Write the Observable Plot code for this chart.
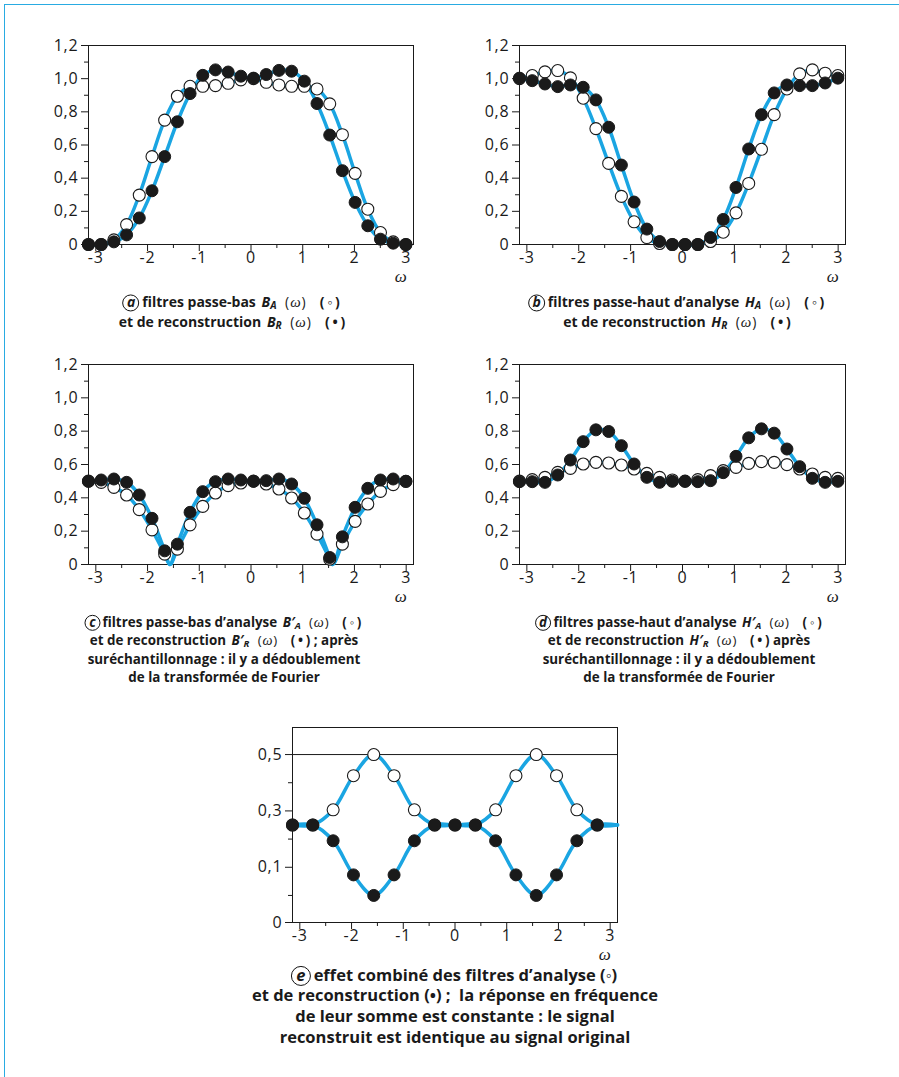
<!DOCTYPE html>
<html><head><meta charset="utf-8">
<script src="https://cdn.jsdelivr.net/npm/d3@7"></script>
<script src="https://cdn.jsdelivr.net/npm/@observablehq/plot@0.6"></script>
<style>
body{margin:0;background:#fff;}
#page{position:relative;width:899px;height:1077px;overflow:hidden;background:#fff;font-family:"Open Sans",sans-serif;color:#1a1a1a;}
#bt{position:absolute;left:4px;top:4px;right:0;border-top:1.5px solid #29abe2;}
#bl{position:absolute;left:4px;top:4px;bottom:0;border-left:1.5px solid #29abe2;}
.panel{position:absolute;}
.cap{position:absolute;text-align:center;font-weight:700;white-space:nowrap;transform:translateX(-50%);}
.lt{position:relative;font-style:italic;font-weight:700;margin:0 0.5em 0 0.2em;}
.lt::before{content:"";position:absolute;left:50%;top:57%;width:1.22em;height:1.22em;border:1.2px solid #111;border-radius:50%;transform:translate(-50%,-50%);box-sizing:border-box;}
.v{font-style:italic;margin-left:0.15em;}
.v sub{font-size:0.72em;vertical-align:-0.16em;line-height:0;}
.w{font-weight:400;margin-left:0.35em;}
.w i{font-family:"Liberation Serif",serif;font-size:1.06em;margin:0 0.06em;}
.s{margin-left:0.75em;}
.s b{margin:0 0.2em;font-weight:700;}
</style>
</head><body>
<div id="page">
  <div id="bt"></div><div id="bl"></div>
  <div class="panel" id="pa"></div>
  <div class="panel" id="pb"></div>
  <div class="panel" id="pc"></div>
  <div class="panel" id="pd"></div>
  <div class="panel" id="pe"></div>
  <div class="cap" style="left:232px;top:292px;font-size:14px;line-height:19.3px">
    <span class="lt">a</span>filtres passe-bas <span class="v">B<sub>A</sub></span> <span class="w">(<i>ω</i>)</span> <span class="s">(<b>◦</b>)</span><br>
    et de reconstruction <span class="v">B<sub>R</sub></span> <span class="w">(<i>ω</i>)</span> <span class="s">(<b>•</b>)</span>
  </div>
  <div class="cap" style="left:677px;top:292px;font-size:14px;line-height:19.3px">
    <span class="lt">b</span>filtres passe-haut d’analyse <span class="v">H<sub>A</sub></span> <span class="w">(<i>ω</i>)</span> <span class="s">(<b>◦</b>)</span><br>
    et de reconstruction <span class="v">H<sub>R</sub></span> <span class="w">(<i>ω</i>)</span> <span class="s">(<b>•</b>)</span>
  </div>
  <div class="cap" style="left:224px;top:612.5px;font-size:13.4px;line-height:18.5px">
    <span class="lt">c</span>filtres passe-bas d’analyse <span class="v">B′<sub>A</sub></span> <span class="w">(<i>ω</i>)</span> <span class="s">(<b>◦</b>)</span><br>
    et de reconstruction <span class="v">B′<sub>R</sub></span> <span class="w">(<i>ω</i>)</span> <span class="s">(<b>•</b>)</span> ; après<br>
    suréchantillonnage : il y a dédoublement<br>
    de la transformée de Fourier
  </div>
  <div class="cap" style="left:679px;top:612.5px;font-size:13.4px;line-height:18.5px">
    <span class="lt">d</span>filtres passe-haut d’analyse <span class="v">H′<sub>A</sub></span> <span class="w">(<i>ω</i>)</span> <span class="s">(<b>◦</b>)</span><br>
    et de reconstruction <span class="v">H′<sub>R</sub></span> <span class="w">(<i>ω</i>)</span> <span class="s">(<b>•</b>)</span> après<br>
    suréchantillonnage : il y a dédoublement<br>
    de la transformée de Fourier
  </div>
  <div class="cap" style="left:455px;top:964.5px;font-size:16.5px;line-height:20.8px">
    <span class="lt">e</span>effet combiné des filtres d’analyse (◦)<br>
    et de reconstruction (•) ;&nbsp; la réponse en fréquence<br>
    de leur somme est constante : le signal<br>
    reconstruit est identique au signal original
  </div>
</div>
<script>
// ---- data ----
const xs = [-3.142,-2.896,-2.651,-2.405,-2.160,-1.914,-1.669,-1.423,-1.178,-0.933,-0.687,-0.442,-0.196,0.049,0.295,0.540,0.785,1.031,1.276,1.522,1.767,2.013,2.258,2.503,2.749,2.994];
const aOpen   = [0,0,0.028,0.12,0.298,0.53,0.75,0.894,0.954,0.954,0.958,0.972,0.993,1.0,0.978,0.962,0.954,0.954,0.938,0.848,0.662,0.429,0.213,0.072,0.016,0];
const aFilled = [0,0,0.016,0.058,0.16,0.324,0.53,0.74,0.91,1.02,1.053,1.04,1.015,1.003,1.025,1.05,1.045,0.985,0.85,0.66,0.445,0.254,0.113,0.032,0.008,0];
const bOpen   = [1.0,1.019,1.041,1.049,1.005,0.882,0.699,0.489,0.29,0.137,0.042,0.006,0,0,0,0.018,0.074,0.191,0.368,0.574,0.783,0.938,1.029,1.053,1.033,1.019];
const bFilled = [1.003,0.988,0.968,0.952,0.962,0.948,0.872,0.707,0.479,0.256,0.093,0.018,0,0,0,0.042,0.151,0.344,0.576,0.783,0.914,0.962,0.958,0.958,0.974,1.003];
const cOpen   = [0.5,0.493,0.463,0.417,0.329,0.208,0.062,0.092,0.238,0.349,0.429,0.473,0.489,0.5,0.483,0.453,0.399,0.309,0.182,0.032,0.122,0.259,0.363,0.439,0.479,0.499];
const cFilled = [0.499,0.507,0.513,0.493,0.417,0.277,0.082,0.122,0.313,0.437,0.497,0.513,0.507,0.499,0.503,0.513,0.483,0.397,0.238,0.042,0.166,0.343,0.457,0.507,0.513,0.499];
const cDipX = [-1.571, 1.571];
const cDipY = [0, 0];
const dOpen   = [0.5,0.509,0.523,0.553,0.577,0.603,0.613,0.609,0.597,0.573,0.547,0.523,0.507,0.5,0.509,0.533,0.563,0.583,0.607,0.617,0.613,0.599,0.573,0.543,0.523,0.517];
const dFilled = [0.497,0.497,0.493,0.537,0.627,0.737,0.808,0.798,0.713,0.603,0.523,0.493,0.499,0.499,0.497,0.503,0.551,0.649,0.76,0.814,0.788,0.693,0.587,0.517,0.493,0.499];
const xe = [-3.142,-2.749,-2.356,-1.963,-1.571,-1.178,-0.785,-0.393,0,0.393,0.785,1.178,1.571,1.963,2.356,2.749];
const eOpen   = [0.25,0.25,0.304,0.425,0.5,0.425,0.304,0.25,0.25,0.25,0.304,0.425,0.5,0.425,0.304,0.25];
const eFilled = [0.25,0.25,0.194,0.073,0.0,0.073,0.194,0.25,0.25,0.25,0.194,0.073,0.0,0.073,0.194,0.25];
const eEndX = 3.142, eEndY = 0.25;

const xTicks = [-3,-2,-1,0,1,2,3];
const xTickLabels = ["-3","-2","-1","0","1","2","3"];
const xMinor = [-2.5,-1.5,-0.5,0.5,1.5,2.5];
const yTicksAD = [0,0.2,0.4,0.6,0.8,1.0,1.2];
const yTickLabelsAD = ["0","0,2","0,4","0,6","0,8","1,0","1,2"];
const yMinorAD = [0.1,0.3,0.5,0.7,0.9,1.1];
const yTicksE = [-0.096,0.1,0.3,0.5];
const yTickLabelsE = ["0","0,1","0,3","0,5"];
const yMinorE = [0,0.2,0.4];
const omega = "ω";

// ---- drawing ----
const BLUE = "#1aa5e2";
const INK = "#1a1a1a";
const zip = (x, y) => x.map((v, i) => ({x: v, y: y[i]}));

function panel(el, o) {
  const ML = 60, MR = 12, MT = 8, MB = 46;
  const xLab = new Map(xTicks.map((t, i) => [t, xTickLabels[i]]));
  const yLab = new Map(o.yTicks.map((t, i) => [t, o.yLabels[i]]));
  const marks = [Plot.frame({stroke: INK, strokeWidth: 1})];
  if (o.rule) marks.push(Plot.ruleY(o.rule, {stroke: INK, strokeWidth: 1}));
  marks.push(
    Plot.axisX({ticks: xTicks, tickSize: 7, tickPadding: 0, tickFormat: d => xLab.get(d), label: null, stroke: INK, fill: INK}),
    Plot.axisX({ticks: xMinor, tickSize: 4, tickFormat: () => "", label: null, stroke: INK}),
    Plot.axisY({ticks: o.yTicks, tickSize: 7, tickPadding: 3, tickFormat: d => yLab.get(d), label: null, stroke: INK, fill: INK}),
    Plot.axisY({ticks: o.yMinor, tickSize: 4, tickFormat: () => "", label: null, stroke: INK}),
    ...o.lines.map(l => Plot.line(l, {x: "x", y: "y", stroke: BLUE, strokeWidth: 3.5, curve: o.curve || "catmull-rom"})),
    Plot.dot(o.open, {x: "x", y: "y", r: 6, fill: "white", stroke: INK, strokeWidth: 1.1}),
    Plot.dot(o.filled, {x: "x", y: "y", r: 6, fill: INK, stroke: INK, strokeWidth: 1}),
    Plot.text([omega], {text: d => d, frameAnchor: "bottom-right", dx: -6, dy: 37, fontStyle: "italic", fontFamily: "Liberation Serif, serif", fontSize: 17, fill: INK})
  );
  const svg = Plot.plot({
    width: o.fw + ML + MR, height: o.fh + MT + MB,
    marginLeft: ML, marginRight: MR, marginTop: MT, marginBottom: MB,
    style: {fontFamily: "'Open Sans', sans-serif", fontSize: "16px", letterSpacing: "0.8px", color: INK, background: "transparent", overflow: "visible"},
    x: {domain: [-3.1416, 3.1416]},
    y: {domain: o.yDomain},
    marks
  });
  const box = document.getElementById(el);
  box.style.left = (o.left - ML) + "px";
  box.style.top = (o.top - MT) + "px";
  box.appendChild(svg);
}

const sortX = arr => arr.slice().sort((p, q) => p.x - q.x);

panel("pa", {left: 88, top: 45, fw: 325, fh: 199, yDomain: [0, 1.2], yTicks: yTicksAD, yLabels: yTickLabelsAD, yMinor: yMinorAD,
  lines: [zip(xs, aOpen), zip(xs, aFilled)], open: zip(xs, aOpen), filled: zip(xs, aFilled)});
panel("pb", {left: 519, top: 45, fw: 326, fh: 199, yDomain: [0, 1.2], yTicks: yTicksAD, yLabels: yTickLabelsAD, yMinor: yMinorAD,
  lines: [zip(xs, bOpen), zip(xs, bFilled)], open: zip(xs, bOpen), filled: zip(xs, bFilled)});
panel("pc", {left: 88, top: 364, fw: 325, fh: 200, yDomain: [0, 1.2], yTicks: yTicksAD, yLabels: yTickLabelsAD, yMinor: yMinorAD, curve: "monotone-x",
  lines: [sortX(zip(xs, cOpen).concat(zip(cDipX, cDipY))), sortX(zip(xs, cFilled).concat(zip(cDipX, cDipY)))],
  open: zip(xs, cOpen), filled: zip(xs, cFilled)});
panel("pd", {left: 519, top: 364, fw: 326, fh: 200, yDomain: [0, 1.2], yTicks: yTicksAD, yLabels: yTickLabelsAD, yMinor: yMinorAD,
  lines: [zip(xs, dOpen), zip(xs, dFilled)], open: zip(xs, dOpen), filled: zip(xs, dFilled)});
panel("pe", {left: 292, top: 727, fw: 325, fh: 195, yDomain: [-0.096, 0.596], yTicks: yTicksE, yLabels: yTickLabelsE, yMinor: yMinorE, rule: [0.5],
  lines: [zip(xe, eOpen).concat([{x: eEndX, y: eEndY}]), zip(xe, eFilled).concat([{x: eEndX, y: eEndY}])],
  open: zip(xe, eOpen), filled: zip(xe, eFilled)});
</script>
</body></html>
